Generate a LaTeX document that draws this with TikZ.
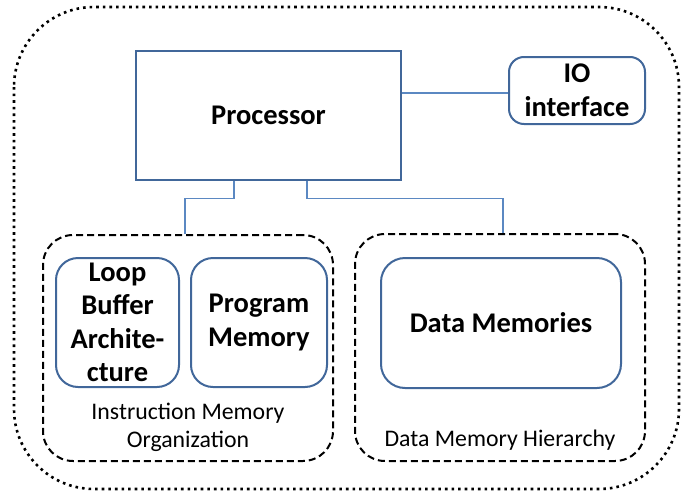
\documentclass[tikz,border=0pt]{standalone}
\usepackage{fontspec}
\setmainfont{Carlito}
\definecolor{boxblue}{HTML}{41679A}
\definecolor{linkblue}{HTML}{5B88C2}
\tikzset{
  unitbox/.style={draw=boxblue, line width=2pt, align=center, inner sep=0pt,
    font=\fontsize{28.5}{33.5}\selectfont\bfseries},
  groupbox/.style={draw=black, line width=2pt, dash pattern=on 7pt off 4pt,
    rounded corners=30pt, inner sep=0pt},
  link/.style={draw=linkblue, line width=1.6pt},
  caption/.style={align=center, font=\fontsize{23.8}{28}\selectfont}
}
\begin{document}
\begin{tikzpicture}[x=1pt, y=-1pt]
  \useasboundingbox (0,0) rectangle (686,493);
  % outer dotted frame
  \draw[line width=2.6pt, dash pattern=on 2.6pt off 4pt, rounded corners=80pt]
    (14,7) rectangle (679,489);

  % processor and IO
  \node[unitbox, minimum width=265pt, minimum height=129pt] (proc) at (268.5,115) {Processor};
  \node[unitbox, rounded corners=15pt, minimum width=136pt, minimum height=67pt] (io) at (577,90.5) {IO\\interface};

  % memory groups
  \node[groupbox, minimum width=290pt, minimum height=226pt] (imo) at (188,348) {};
  \node[groupbox, minimum width=290pt, minimum height=227pt] (dmh) at (500,347.5) {};

  \node[unitbox, rounded corners=22pt, minimum width=123pt, minimum height=129pt] (loop) at (117.5,322.5) {Loop\\Buffer\\Archite-\\cture};
  \node[unitbox, rounded corners=22pt, minimum width=136pt, minimum height=129pt] (prog) at (259,322.5) {Program\\Memory};
  \node[unitbox, rounded corners=24pt, minimum width=240pt, minimum height=130pt] (data) at (501,323) {Data Memories};

  \node[caption] (imolabel) at (188,427) {Instruction Memory\\Organization};
  \node[caption] (dmhlabel) at (500,440) {Data Memory Hierarchy};

  % connectors
  \draw[link] ([yshift=22pt]proc.east) -- ([yshift=22pt]proc.east -| io.west);
  \draw[link] ([xshift=-34.5pt]proc.south) -- ++(0,18) -| ([xshift=-3pt]imo.north);
  \draw[link] ([xshift=38.5pt]proc.south) -- ++(0,18) -| ([xshift=3pt]dmh.north);
\end{tikzpicture}
\end{document}
